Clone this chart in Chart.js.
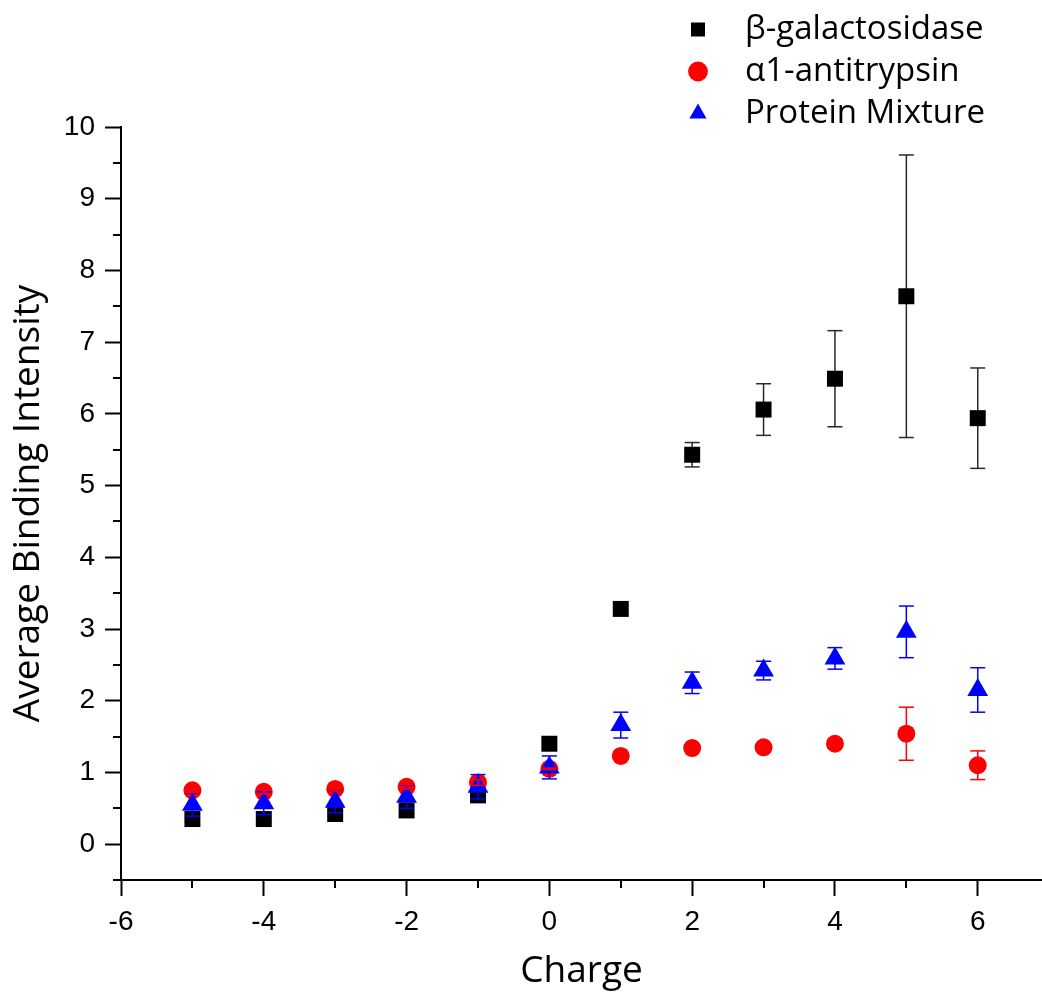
<!DOCTYPE html>
<html>
<head>
<meta charset="utf-8">
<title>Average Binding Intensity vs Charge</title>
<script src="https://cdn.jsdelivr.net/npm/chart.js@4.4.1/dist/chart.umd.min.js"></script>
<style>
  html, body { margin: 0; padding: 0; background: #fff; }
</style>
</head>
<body>
<canvas id="myChart" width="1042" height="994"></canvas>
<script>
// data
const charges = [-5, -4, -3, -2, -1, 0, 1, 2, 3, 4, 5, 6];
const betaGal = [0.35, 0.35, 0.42, 0.47, 0.68, 1.40, 3.28, 5.43, 6.06, 6.49, 7.64, 5.94];
const betaGalErr = [0.03, 0.03, 0.03, 0.03, 0.04, 0.05, 0.06, 0.17, 0.36, 0.67, 1.97, 0.70];
const antitrypsin = [0.75, 0.73, 0.77, 0.80, 0.86, 1.05, 1.23, 1.34, 1.35, 1.40, 1.54, 1.10];
const antitrypsinErr = [0.03, 0.03, 0.03, 0.03, 0.04, 0.01, 0.04, 0.04, 0.04, 0.06, 0.37, 0.20];
const mixture = [0.55, 0.57, 0.59, 0.66, 0.80, 1.07, 1.66, 2.25, 2.42, 2.59, 2.96, 2.15];
const mixtureErr = [0.16, 0.16, 0.15, 0.16, 0.17, 0.16, 0.18, 0.15, 0.13, 0.15, 0.36, 0.31];

const seriesNames = ['β-galactosidase', 'α1-antitrypsin', 'Protein Mixture'];

// minor tick positions
const xMinorTicks = [-5, -3, -1, 1, 3, 5];
const yMinorTicks = [-0.5, 0.5, 1.5, 2.5, 3.5, 4.5, 5.5, 6.5, 7.5, 8.5, 9.5];

function pts(vals) {
    return charges.map((c, i) => ({ x: c, y: vals[i] }));
}
// each error bar = low point, high point, then a gap
function errPts(vals, errs) {
    var out = [];
    charges.forEach((c, i) => {
        out.push({ x: c, y: vals[i] - errs[i] }, { x: c, y: vals[i] + errs[i] }, { x: c, y: null });
    });
    return out;
}
function errSet(vals, errs, color, order) {
    return {
        isErr: true,
        data: errPts(vals, errs),
        showLine: true,
        spanGaps: false,
        borderColor: color,
        borderWidth: 1.5,
        pointStyle: 'line',
        pointRadius: 7.5,
        pointBorderWidth: 1.5,
        pointBorderColor: color,
        pointBackgroundColor: color,
        order: order
    };
}

// legend sits above the plot at the top right
const legendMover = {
    id: 'legendMover',
    beforeDraw(chart) {
        var lg = chart.legend;
        lg.left = 675; lg.top = 4; lg.right = 1040; lg.bottom = 200;
        lg.width = lg.right - lg.left;
        lg.height = lg.bottom - lg.top;
    }
};

// short minor ticks, outside the axes
const minorTicks = {
    id: 'minorTicks',
    afterDraw(chart) {
        var ctx = chart.ctx, x = chart.scales.x, y = chart.scales.y;
        ctx.save();
        ctx.strokeStyle = '#000';
        ctx.lineWidth = 2;
        xMinorTicks.forEach(v => {
            var px = Math.round(x.getPixelForValue(v));
            ctx.beginPath(); ctx.moveTo(px, x.top); ctx.lineTo(px, x.top + 8); ctx.stroke();
        });
        yMinorTicks.forEach(v => {
            var py = Math.round(y.getPixelForValue(v));
            ctx.beginPath(); ctx.moveTo(y.right, py); ctx.lineTo(y.right - 8, py); ctx.stroke();
        });
        ctx.restore();
    }
};

var ctx = document.getElementById('myChart').getContext('2d');
var chart = new Chart(ctx, {
    type: 'scatter',
    data: {
        datasets: [
            errSet(betaGal, betaGalErr, '#2a2a2a', 4),
            errSet(antitrypsin, antitrypsinErr, '#ff0000', 0),
            errSet(mixture, mixtureErr, '#0000ff', 0),
            {
                label: seriesNames[0], data: pts(betaGal),
                pointStyle: 'rect', pointRadius: 11.3,
                backgroundColor: '#000000', borderColor: '#000000',
                borderWidth: 0, pointBorderWidth: 0, order: 3
            },
            {
                label: seriesNames[1], data: pts(antitrypsin),
                pointStyle: 'circle', pointRadius: 9,
                backgroundColor: '#ff0000', borderColor: '#ff0000',
                borderWidth: 0, pointBorderWidth: 0, order: 2
            },
            {
                label: seriesNames[2], data: pts(mixture),
                pointStyle: 'triangle', pointRadius: 12,
                backgroundColor: '#0000ff', borderColor: '#0000ff',
                borderWidth: 0, pointBorderWidth: 0, order: 1
            }
        ]
    },
    options: {
        responsive: false,
        animation: false,
        layout: { autoPadding: false, padding: { left: 0, top: 127, right: 0, bottom: 0 } },
        plugins: {
            tooltip: { enabled: false },
            legend: {
                position: 'chartArea',
                align: 'start',
                labels: {
                    usePointStyle: true,
                    boxWidth: 28,
                    boxHeight: 14,
                    padding: 9,
                    color: '#000',
                    font: { family: "'Open Sans', sans-serif", size: 33 },
                    filter: (item, data) => !data.datasets[item.datasetIndex].isErr,
                    sort: (a, b) => a.datasetIndex - b.datasetIndex,
                    generateLabels: function (chart) {
                        var items = Chart.defaults.plugins.legend.labels.generateLabels(chart);
                        items.forEach(it => { it.text = '\u2002' + it.text; });
                        return items;
                    }
                }
            }
        },
        scales: {
            x: {
                type: 'linear',
                min: -6,
                max: 6.9,
                afterFit: s => { s.height = 114; },
                border: { color: '#000', width: 2 },
                grid: { drawOnChartArea: false, drawTicks: true, tickLength: 16, tickWidth: 2, tickColor: '#000' },
                ticks: {
                    stepSize: 2, includeBounds: false, maxRotation: 0, padding: 9,
                    color: '#000', font: { family: "'Liberation Sans', Arial, sans-serif", size: 28 }
                },
                title: {
                    display: true, text: 'Charge', color: '#000',
                    font: { family: "'Open Sans', sans-serif", size: 37 },
                    padding: { top: 0, bottom: 0 }
                }
            },
            y: {
                min: -0.5,
                max: 10,
                afterFit: s => { s.width = 121; },
                border: { color: '#000', width: 2 },
                grid: { drawOnChartArea: false, drawTicks: true, tickLength: 16, tickWidth: 2, tickColor: '#000' },
                ticks: {
                    stepSize: 1, includeBounds: false, padding: 10,
                    color: '#000', font: { family: "'Liberation Sans', Arial, sans-serif", size: 28 }
                },
                title: {
                    display: true, text: 'Average Binding Intensity', color: '#000',
                    font: { family: "'Open Sans', sans-serif", size: 37 },
                    padding: { top: 6, bottom: 0 }
                }
            }
        }
    },
    plugins: [legendMover, minorTicks]
});
</script>
</body>
</html>
